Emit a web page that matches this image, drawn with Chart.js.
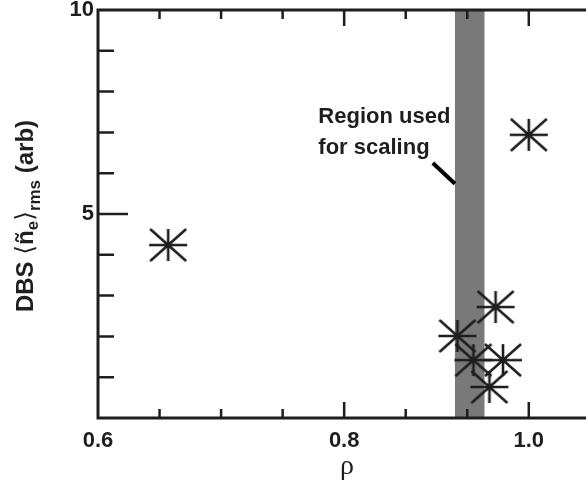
<!DOCTYPE html>
<html>
<head>
<meta charset="utf-8">
<script src="https://cdn.jsdelivr.net/npm/chart.js@4.4.1/dist/chart.umd.min.js"></script>
<style>
  html, body { margin: 0; padding: 0; background: #fff; overflow: hidden; }
  canvas { display: block; }
</style>
</head>
<body>
<!-- the reference figure is cut off on the right, so the canvas runs past the window edge -->
<canvas id="chart" width="596" height="480"></canvas>
<script>
// -------------------------------------------- data
const rho = [0.657, 0.950, 0.892, 0.905, 0.918, 0.929, 0.923];
const dbsAmp = [4.24, 6.94, 2.01, 1.42, 0.76, 1.42, 2.72];

const xTicks = [0.6, 0.65, 0.7, 0.75, 0.8, 0.85, 0.9, 0.95];
const xTickLabels = ['0.6', '', '', '', '0.8', '', '', '1.0'];
const yTicks = [0, 1, 2, 3, 4, 5, 6, 7, 8, 9, 10];
const yTickLabels = ['', '', '', '', '', '5', '', '', '', '', '10'];

const scalingRegion = [0.890, 0.914];
const noteLines = ['Region used', 'for scaling'];

const INK = '#1e1e1e';
const BOLD = "'Liberation Sans', Arial, sans-serif";

// -------------------------------------------- asterisk marker
function makeStar() {
    const c = document.createElement('canvas');
    c.width = 42;
    c.height = 38;
    const g = c.getContext('2d');
    g.strokeStyle = INK;
    g.lineWidth = 2.6;
    g.translate(21, 19);
    g.beginPath();
    g.moveTo(-19, 0); g.lineTo(19, 0);
    g.moveTo(0, -16); g.lineTo(0, 16);
    g.moveTo(-18, -16); g.lineTo(18, 16);
    g.moveTo(-18, 16); g.lineTo(18, -16);
    g.stroke();
    return c;
}
const star = makeStar();

// -------------------------------------------- band, ticks, frame, labels
const decorations = {
    id: 'decorations',
    beforeDatasetsDraw(chart) {
        const {ctx, chartArea, scales: {x}} = chart;
        const x0 = x.getPixelForValue(scalingRegion[0]);
        const x1 = x.getPixelForValue(scalingRegion[1]);
        ctx.save();
        ctx.fillStyle = '#797979';
        ctx.fillRect(x0, chartArea.top, x1 - x0, chartArea.bottom - chartArea.top);
        ctx.restore();
    },
    afterDraw(chart) {
        const {ctx, chartArea, scales: {x, y}} = chart;
        const {left, top, bottom} = chartArea;
        ctx.save();
        ctx.strokeStyle = INK;

        // frame: left, bottom, top (right side is cut off)
        ctx.lineWidth = 3;
        ctx.beginPath();
        ctx.moveTo(chart.width, top);
        ctx.lineTo(left, top);
        ctx.lineTo(left, bottom);
        ctx.lineTo(chart.width, bottom);
        ctx.stroke();

        // inward ticks
        ctx.lineWidth = 2.5;
        ctx.beginPath();
        xTicks.forEach((v, i) => {
            if (i === 0) return;
            const px = x.getPixelForValue(v);
            const len = xTickLabels[i] ? 16 : 9;
            ctx.moveTo(px, bottom);
            ctx.lineTo(px, bottom - len);
            ctx.moveTo(px, top);
            ctx.lineTo(px, top + len);
        });
        yTicks.forEach((v, i) => {
            if (i === 0 || i === yTicks.length - 1) return;
            const py = y.getPixelForValue(v);
            const len = yTickLabels[i] ? 30 : 16;
            ctx.moveTo(left, py);
            ctx.lineTo(left + len, py);
        });
        ctx.stroke();

        // note + pointer
        ctx.fillStyle = INK;
        ctx.font = 'bold 22px ' + BOLD;
        ctx.textBaseline = 'alphabetic';
        const tx = x.getPixelForValue(0.779);
        ctx.fillText(noteLines[0], tx, y.getPixelForValue(7.23));
        ctx.fillText(noteLines[1], tx, y.getPixelForValue(6.47));
        ctx.lineWidth = 4;
        ctx.strokeStyle = '#000';
        ctx.beginPath();
        ctx.moveTo(x.getPixelForValue(0.872), y.getPixelForValue(6.25));
        ctx.lineTo(x.getPixelForValue(scalingRegion[0]), y.getPixelForValue(5.74));
        ctx.stroke();

        // y axis title with subscript pieces
        const parts = [
            {t: 'DBS ', f: 'bold 24px ' + BOLD, dy: 0},
            {t: '\u27E8', f: '25px DejaVu Sans', dy: 0},
            {t: 'ñ', f: 'bold 24px ' + BOLD, dy: 0},
            {t: 'e', f: 'bold 17px ' + BOLD, dy: 5},
            {t: '\u27E9', f: '25px DejaVu Sans', dy: 0},
            {t: 'rms', f: 'bold 17px ' + BOLD, dy: 7},
            {t: ' (arb)', f: 'bold 24px ' + BOLD, dy: 0}
        ];
        let total = 0;
        parts.forEach(p => { ctx.font = p.f; p.w = ctx.measureText(p.t).width; total += p.w; });
        ctx.translate(33, 216);
        ctx.rotate(-Math.PI / 2);
        let cx = -total / 2;
        parts.forEach(p => {
            ctx.font = p.f;
            ctx.fillText(p.t, cx, p.dy);
            cx += p.w;
        });
        ctx.restore();
    }
};

// -------------------------------------------- chart
const ctx = document.querySelector('#chart').getContext('2d');
const chart = new Chart(ctx, {
    type: 'scatter',
    data: {
        datasets: [{
            label: 'DBS',
            data: rho.map((r, i) => ({x: r, y: dbsAmp[i]})),
            pointStyle: star,
            pointRadius: 18,
            pointHoverRadius: 18,
            clip: false,
        }]
    },
    options: {
        responsive: false,
        devicePixelRatio: 1,
        animation: false,
        layout: {
            autoPadding: false,
            padding: {top: 10, right: 0, left: 0, bottom: 0}
        },
        plugins: {
            legend: {display: false},
            tooltip: {enabled: false}
        },
        scales: {
            x: {
                type: 'linear',
                min: 0.6,
                max: 1.0046,
                afterBuildTicks: (scale) => { scale.ticks = xTicks.map(v => ({value: v})); },
                afterFit: (scale) => {
                    scale.height = 62;
                    scale.paddingLeft = 0;
                    scale.paddingRight = 0;
                },
                grid: {display: false, drawTicks: false},
                border: {display: false},
                ticks: {
                    autoSkip: false,
                    maxRotation: 0,
                    padding: 10,
                    color: INK,
                    font: {family: BOLD, size: 22, weight: 'bold'},
                    callback: (value, index) => xTickLabels[index]
                },
                title: {
                    display: true,
                    text: 'ρ',
                    color: INK,
                    font: {family: "'Liberation Serif', 'Times New Roman', serif", size: 28},
                    padding: {top: 0, bottom: -3}
                }
            },
            y: {
                type: 'linear',
                min: 0,
                max: 10,
                afterBuildTicks: (scale) => { scale.ticks = yTicks.map(v => ({value: v})); },
                afterFit: (scale) => {
                    scale.width = 98;
                    scale.paddingTop = 0;
                    scale.paddingBottom = 0;
                },
                grid: {display: false, drawTicks: false},
                border: {display: false},
                ticks: {
                    autoSkip: false,
                    padding: 4,
                    color: INK,
                    font: {family: BOLD, size: 22, weight: 'bold'},
                    callback: (value, index) => yTickLabels[index]
                }
            }
        }
    },
    plugins: [decorations]
});
</script>
</body>
</html>
